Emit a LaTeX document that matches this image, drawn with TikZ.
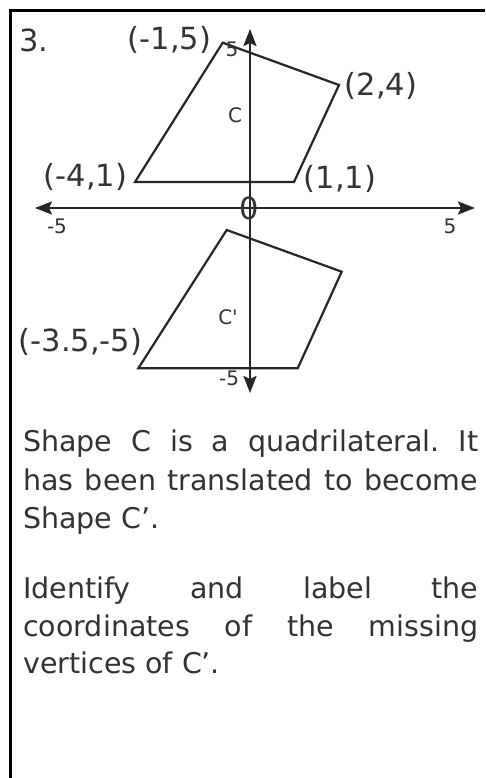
\documentclass[tikz,border=0pt]{standalone}
\usepackage{fontspec}
\setmainfont{DejaVu Sans}
\newfontfamily\lab{DejaVu Sans}
\usetikzlibrary{arrows.meta}
\definecolor{ink}{HTML}{262626}
\definecolor{txt}{HTML}{333333}
\frenchspacing
\begin{document}
\begin{tikzpicture}[x=1pt,y=-1pt,
  shapeline/.style={draw=ink, line width=2.2pt, line join=miter},
  axisline/.style={draw=ink, line width=2.2pt, {Stealth[length=17pt,width=13pt,inset=3pt]}-{Stealth[length=17pt,width=13pt,inset=3pt]}},
  biglab/.style={font=\lab\fontsize{30.5}{32}\selectfont, text=txt, inner sep=0pt},
  smalllab/.style={font=\lab\fontsize{20}{22}\selectfont, text=txt, inner sep=0pt},
  bodyline/.style={font=\fontsize{28.5}{34}\selectfont, text=txt, inner sep=0pt, anchor=base west}]
\useasboundingbox (0,0) rectangle (485,778);
\fill[white] (0,0) rectangle (485,778);
% frame
\draw[black, line width=2.6pt] (485,10.5) -- (10.5,10.5) -- (10.5,778);
% axes
\coordinate (xl) at (35,208);
\coordinate (xr) at (475,208);
\coordinate (yt) at (250,29);
\coordinate (yb) at (250,393);
\draw[axisline] (xl) -- (xr);
\draw[axisline] (yt) -- (yb);
% shape C
\coordinate (a) at (222.7,42.7);
\coordinate (b) at (339,85);
\coordinate (c) at (294,182);
\coordinate (d) at (135,182);
\draw[shapeline] (a) -- (b) -- (c) -- (d) -- cycle;
% shape C'
\coordinate (a2) at (226.7,230);
\coordinate (b2) at (341.7,271.7);
\coordinate (c2) at (297.7,368.3);
\coordinate (d2) at (138.3,368.3);
\draw[shapeline] (a2) -- (b2) -- (c2) -- (d2) -- cycle;
% labels
\node[biglab] (num) at (34,40) {3.};
\node[biglab] (la) at (169.5,40) {(-1,5)};
\node[biglab] (lb) at (381,86) {(2,4)};
\node[biglab] (ld) at (85.5,177) {(-4,1)};
\node[biglab] (lc) at (340,179) {(1,1)};
\node[biglab] (lo) at (249,208) {0};
\node[biglab] (ld2) at (80.5,342) {(-3.5,-5)};
\node[smalllab] (t5) at (232,49) {5};
\node[smalllab] (lC) at (235,115) {C};
\node[smalllab] (xm5) at (57,226) {-5};
\node[smalllab] (xp5) at (450,226) {5};
\node[smalllab] (lC2) at (228,317) {C\textquotesingle};
\node[smalllab] (ym5) at (229,378) {-5};
% text
\node[bodyline] (p1) at (23,451) {\makebox[455pt][s]{Shape C is a quadrilateral. It}};
\node[bodyline] (p2) at (23,490) {\makebox[455pt][s]{has been translated to become}};
\node[bodyline] (p3) at (23,528) {Shape C’.};
\node[bodyline] (p4) at (23,598) {\makebox[455pt][s]{Identify and label the}};
\node[bodyline] (p5) at (23,636) {\makebox[455pt][s]{coordinates of the missing}};
\node[bodyline] (p6) at (23,673) {vertices of C’.};
\end{tikzpicture}
\end{document}
